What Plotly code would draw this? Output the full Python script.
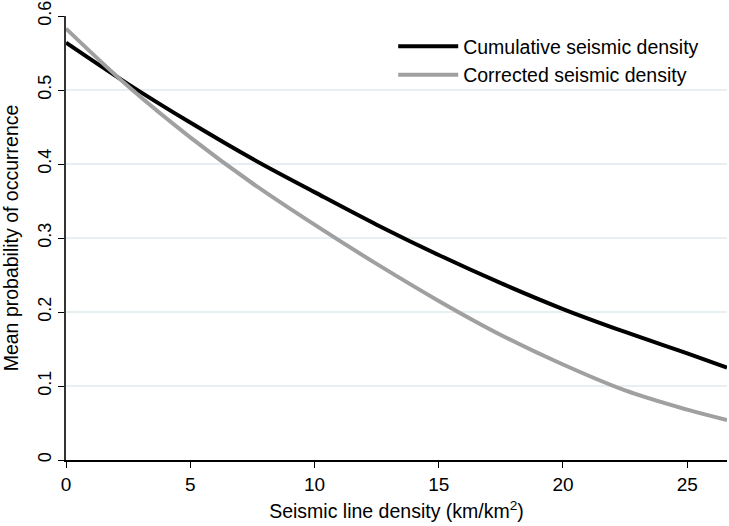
import plotly.graph_objects as go

density = [0, 2.5, 5, 7.5, 10, 12.5, 15, 17.5, 20, 22.5, 25, 26.6]
cumulative = [0.564, 0.508, 0.456, 0.407, 0.362, 0.318, 0.277, 0.239, 0.204, 0.173, 0.144, 0.125]
corrected = [0.583, 0.505, 0.436, 0.374, 0.318, 0.265, 0.215, 0.169, 0.129, 0.094, 0.068, 0.054]

x_ticks = [0, 5, 10, 15, 20, 25]
y_ticks = [0, 0.1, 0.2, 0.3, 0.4, 0.5, 0.6]
y_tick_text = ["0", "0.1", "0.2", "0.3", "0.4", "0.5", "0.6"]

FONT = "Liberation Sans, Arial, sans-serif"

fig = go.Figure()
fig.add_trace(go.Scatter(x=density, y=cumulative, mode="lines", name="Cumulative seismic density",
                         line=dict(color="#000000", width=4, shape="spline")))
fig.add_trace(go.Scatter(x=density, y=corrected, mode="lines", name="Corrected seismic density",
                         line=dict(color="#a0a0a0", width=4, shape="spline")))

fig.update_layout(
    width=729, height=526,
    margin=dict(l=66, r=2, t=16, b=66),
    paper_bgcolor="white", plot_bgcolor="white",
    font=dict(family=FONT, size=18, color="#000000"),
    showlegend=True,
    legend=dict(x=0.495, y=0.975, xanchor="left", yanchor="top",
                bgcolor="rgba(0,0,0,0)", font=dict(size=19.5), tracegroupgap=0,
                itemwidth=60),
    xaxis=dict(range=[0, 26.6], tickvals=x_ticks, ticks="outside", ticklen=6, tickcolor="#000",
               showline=True, linecolor="#000", linewidth=1.5, showgrid=False, zeroline=False,
               tickfont=dict(size=19), automargin=False,
               title=dict(text="Seismic line density (km/km<sup>2</sup>)", font=dict(size=19.5), standoff=11)),
    yaxis=dict(range=[0, 0.6], tickvals=y_ticks, ticktext=y_tick_text, ticks="outside", ticklen=6,
               tickcolor="#000", tickangle=-90, automargin=False, ticklabeloverflow="allow",
               showline=True, linecolor="#333", linewidth=1.5, showgrid=True, gridcolor="#e8eff2",
               gridwidth=1.5, zeroline=False, tickfont=dict(size=18),
               title=dict(text="Mean probability of occurrence", font=dict(size=19.5), standoff=13)),
)

fig.write_html("out.html", config={"displayModeBar": False},
               post_script="document.body.style.margin='0';")
